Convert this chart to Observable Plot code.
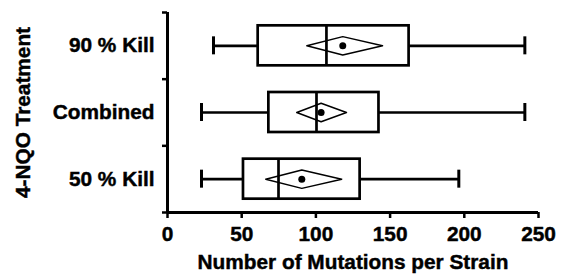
<!DOCTYPE html>
<html>
<head>
<meta charset="utf-8">
<script src="https://cdn.jsdelivr.net/npm/d3@7"></script>
<script src="https://cdn.jsdelivr.net/npm/@observablehq/plot@0.6"></script>
<style>
  html, body { margin: 0; padding: 0; background: #fff; }
  svg { font-family: "Liberation Sans", Arial, sans-serif; }
  svg text { stroke: black; stroke-width: 0.45px; paint-order: stroke; }
</style>
</head>
<body>
<div id="chart"></div>
<script>
// Categories bottom to top
const categories = ["50 % Kill", "Combined", "90 % Kill"];
const mins    = [22.9, 22.9, 31];
const q1s     = [51.2, 68.3, 61.1];
const medians = [74.8, 100.4, 107.1];
const q3s     = [129.8, 142.5, 162.8];
const maxs    = [196.3, 240.8, 240.8];
const means   = [90.5, 103.5, 118.1];
const ciLow   = [66.2, 87.1, 93.9];
const ciHigh  = [117.4, 120.6, 144.9];
const xTicks = [0, 50, 100, 150, 200, 250];

const boxHalf = 0.3, capHalf = 0.135, diaHalf = 0.138;

const rows = categories.map((c, i) => ({
  cat: c, pos: i + 0.5,
  min: mins[i], q1: q1s[i], med: medians[i], q3: q3s[i], max: maxs[i],
  mean: means[i], lo: ciLow[i], hi: ciHigh[i]
}));

const diamond = rows.flatMap(r => [
  {cat: r.cat, x: r.lo, y: r.pos},
  {cat: r.cat, x: r.mean, y: r.pos + diaHalf},
  {cat: r.cat, x: r.hi, y: r.pos},
  {cat: r.cat, x: r.mean, y: r.pos - diaHalf},
  {cat: r.cat, x: r.lo, y: r.pos}
]);

const sw = 2.7;
const fs = 20.8;
const chart = Plot.plot({
  width: 562,
  height: 278,
  marginTop: 12,
  marginBottom: 66,
  marginLeft: 167,
  marginRight: 24,
  style: {fontFamily: "Liberation Sans, Arial, sans-serif", fontSize: fs + "px", fontWeight: "bold", color: "black"},
  x: {domain: [0, 250]},
  y: {domain: [0, categories.length]},
  marks: [
    // whiskers
    Plot.ruleY(rows, {y: "pos", x1: "min", x2: "q1", stroke: "black", strokeWidth: sw}),
    Plot.ruleY(rows, {y: "pos", x1: "q3", x2: "max", stroke: "black", strokeWidth: sw}),
    Plot.ruleX(rows, {x: "min", y1: d => d.pos - capHalf, y2: d => d.pos + capHalf, stroke: "black", strokeWidth: sw + 0.3}),
    Plot.ruleX(rows, {x: "max", y1: d => d.pos - capHalf, y2: d => d.pos + capHalf, stroke: "black", strokeWidth: sw + 0.3}),
    // boxes
    Plot.rect(rows, {x1: "q1", x2: "q3", y1: d => d.pos - boxHalf, y2: d => d.pos + boxHalf, fill: "white", stroke: "black", strokeWidth: sw}),
    Plot.ruleX(rows, {x: "med", y1: d => d.pos - boxHalf, y2: d => d.pos + boxHalf, stroke: "black", strokeWidth: sw}),
    // diamond CI
    Plot.line(diamond, {x: "x", y: "y", z: "cat", stroke: "black", strokeWidth: 1.5, curve: "linear"}),
    // mean
    Plot.dot(rows, {x: "mean", y: "pos", r: 3.5, fill: "black", stroke: null}),
    // axes
    Plot.axisY({ticks: [0, 1, 2, 3], tickSize: 5, tickFormat: () => "", strokeWidth: 2.5}),
    Plot.axisY({ticks: rows.map(r => r.pos), tickSize: 0, tickPadding: 13, tickFormat: v => categories[Math.floor(v)], label: null}),
    Plot.axisX({ticks: xTicks, tickSize: 6, tickPadding: 8, strokeWidth: 2.5, label: null}),
    Plot.ruleX([0], {y1: 0, y2: categories.length, stroke: "black", strokeWidth: 3}),
    Plot.ruleY([0], {x1: 0, x2: 250, stroke: "black", strokeWidth: 3}),
    // axis titles
    Plot.text(["Number of Mutations per Strain"], {frameAnchor: "bottom", dy: 50, lineAnchor: "middle", fontSize: fs, fontWeight: "bold", fill: "black"}),
    Plot.text(["4-NQO Treatment"], {frameAnchor: "left", dx: -144, rotate: -90, lineAnchor: "middle", textAnchor: "middle", fontSize: fs, fontWeight: "bold", fill: "black"})
  ]
});
document.getElementById("chart").appendChild(chart);
</script>
</body>
</html>
